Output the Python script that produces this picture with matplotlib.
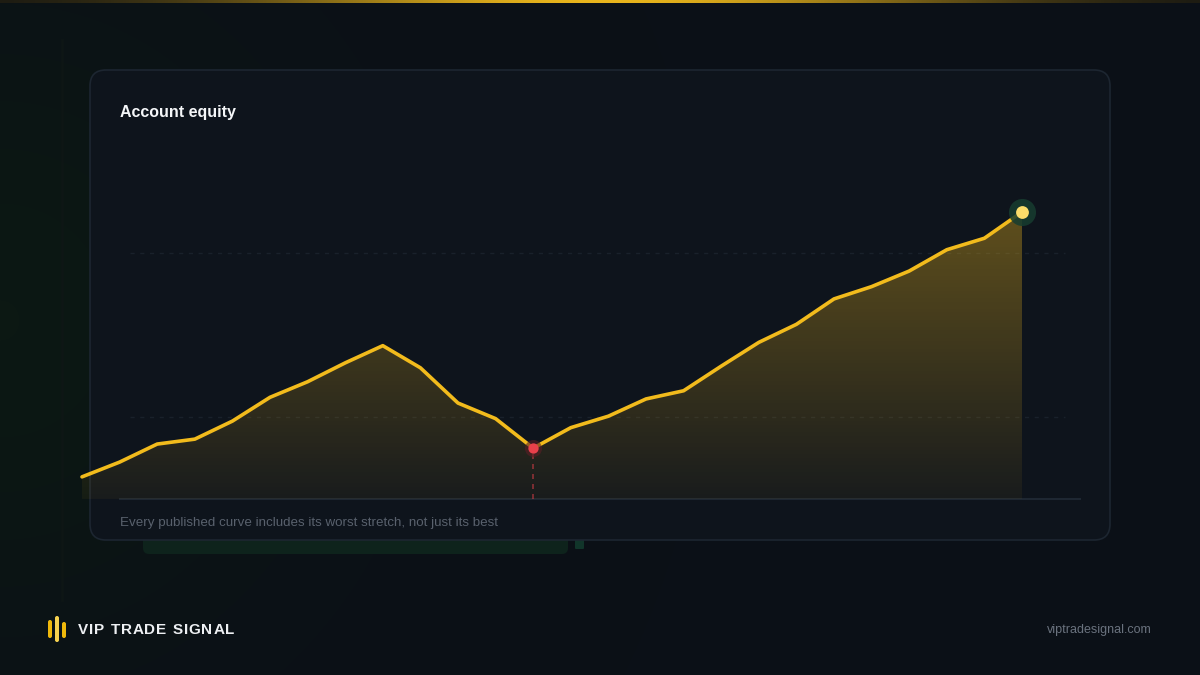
import matplotlib
matplotlib.use("Agg")
import matplotlib.pyplot as plt
import numpy as np
from matplotlib.patches import FancyBboxPatch, Polygon
from matplotlib.colors import LinearSegmentedColormap

# equity curve (index, start of chart = 100 base)
periods = np.arange(26)
equity = [102.7, 104.5, 106.7, 107.3, 109.5, 112.4, 114.3, 116.6, 118.7, 116.0,
          111.7, 109.8, 106.2, 108.7, 110.1, 112.2, 113.2, 116.2, 119.1, 121.3,
          124.4, 125.9, 127.8, 130.4, 131.8, 135.0]
grid_levels = [110, 130]
y_base = 100
title = "Account equity"
caption = "Every published curve includes its worst stretch, not just its best"
brand = "VIP TRADE SIGNAL"
site = "viptradesignal.com"

BG = "#0b1017"
CARD = "#0e141c"
GOLD = "#f2bb1c"
RED = "#e8404b"

plt.rcParams['font.family'] = ['Liberation Sans', 'DejaVu Sans']

fig = plt.figure(figsize=(12, 6.75), dpi=100, facecolor=BG)

# ---- background layer in pixel units ----
bg = fig.add_axes([0, 0, 1, 1], zorder=0)
bg.set_xlim(0, 1200)
bg.set_ylim(675, 0)
bg.axis('off')
bg.set_facecolor(BG)

# faint green glow on the left side
yy, xx = np.mgrid[0:675, 0:1200]
glow = np.exp(-((xx - 0) / 300.0) ** 2 - ((yy - 320) / 320.0) ** 2)
glow_cmap = LinearSegmentedColormap.from_list('glow', ['#0b1017', '#0c1813'])
bg.imshow(glow, extent=[0, 1200, 675, 0], cmap=glow_cmap, vmin=0, vmax=1, zorder=0,
          aspect='auto', interpolation='bilinear')

# top gold bar
grad = np.exp(-((np.linspace(-1, 1, 400)) / 0.6) ** 2)[None, :]
bar_cmap = LinearSegmentedColormap.from_list('bar', ['#1e1c12', '#e8b41c'])
bg.imshow(grad, extent=[0, 1200, 3, 0], cmap=bar_cmap, aspect='auto', zorder=1)

# faint vertical rule on the left
bg.plot([62, 62], [40, 600], color='#0e1615', lw=2, zorder=1)

# green panel peeking below the card
bg.add_patch(FancyBboxPatch((143, 520), 425, 34, boxstyle="round,pad=0,rounding_size=6",
                            fc='#0e231c', ec='none', zorder=2))
bg.add_patch(FancyBboxPatch((575, 536), 9, 13, boxstyle="round,pad=0,rounding_size=1",
                            fc='#11352a', ec='none', zorder=2))

# card
bg.add_patch(FancyBboxPatch((90, 70), 1020, 470, boxstyle="round,pad=0,rounding_size=16",
                            fc=CARD, ec='#1d2631', lw=1.2, zorder=3))

bg.text(120, 112, title, color='#f4f6f8', fontsize=11.5, fontweight='bold',
        ha='left', va='center', zorder=5)
bg.text(120, 523, caption, color='#59616d', fontsize=9.65, ha='left', va='center', zorder=5)

# brand mark
for x0, y0, h, c in [(48, 620, 18, '#f0b90b'), (55, 616, 26, '#f7d250'), (62, 622, 16, '#f0b90b')]:
    bg.add_patch(FancyBboxPatch((x0, y0), 4, h, boxstyle="round,pad=0,rounding_size=2",
                                fc=c, ec='none', zorder=5))

# letter-spaced brand name
renderer = fig.canvas.get_renderer()
cx = 78.0
for ch in brand:
    t = bg.text(cx, 630, ch, color='#eef0f3', fontsize=11, fontweight='bold',
                ha='left', va='center', zorder=5)
    if ch == ' ':
        w = 4.6
    else:
        w = t.get_window_extent(renderer=renderer).width
    cx += w + 0.85

bg.text(1152, 630, site, color='#6a727e', fontsize=9, ha='right', va='center', zorder=5)

# ---- chart axes ----
ax = fig.add_axes([82 / 1200, (675 - 499) / 675, 998 / 1200, 328 / 675], zorder=4)
ax.set_facecolor('none')
ax.set_xlim(0, 998 / 37.6)
ax.set_ylim(y_base, 140)
ax.axis('off')

for g in grid_levels:
    ax.axhline(g, xmin=0.048, xmax=0.985, color='#19212b', lw=1, ls=(0, (3, 4)), zorder=1)
ax.axhline(y_base, xmin=0.038, xmax=1, color='#1e2732', lw=1.5, zorder=2, clip_on=False)

# gradient area under the curve
verts = [(periods[0], y_base)] + list(zip(periods, equity)) + [(periods[-1], y_base)]
poly = Polygon(verts, closed=True, fc='none', ec='none')
ax.add_patch(poly)
fill_cmap = LinearSegmentedColormap.from_list('fill', [(0.95, 0.73, 0.11, 0.05), (0.95, 0.73, 0.11, 0.36)])
ramp = np.linspace(0, 1, 256)[:, None]
img = ax.imshow(ramp, extent=[periods[0], periods[-1], y_base, max(equity)], origin='lower',
                cmap=fill_cmap, vmin=0, vmax=1, aspect='auto', zorder=2)
img.set_clip_path(poly)

ax.plot(periods, equity, color=GOLD, lw=2.6, solid_joinstyle='round', solid_capstyle='round',
        zorder=5, clip_on=False)

# worst point
i_min = int(np.argmin(equity[5:])) + 5
ax.plot([periods[i_min], periods[i_min]], [y_base, equity[i_min]], color=RED, alpha=0.55,
        lw=1.2, ls=(0, (3, 3)), zorder=3)
ax.scatter([periods[i_min]], [equity[i_min]], s=150, color='#5a1e26', alpha=0.6, zorder=6, lw=0)
ax.scatter([periods[i_min]], [equity[i_min]], s=55, color=RED, zorder=7, lw=0)

# latest point
ax.scatter([periods[-1]], [equity[-1]], s=380, color='#173d30', alpha=0.85, zorder=6, lw=0)
ax.scatter([periods[-1]], [equity[-1]], s=85, color='#fbdc6a', zorder=7, lw=0)

fig.savefig('out.png', dpi=100, facecolor=BG)
